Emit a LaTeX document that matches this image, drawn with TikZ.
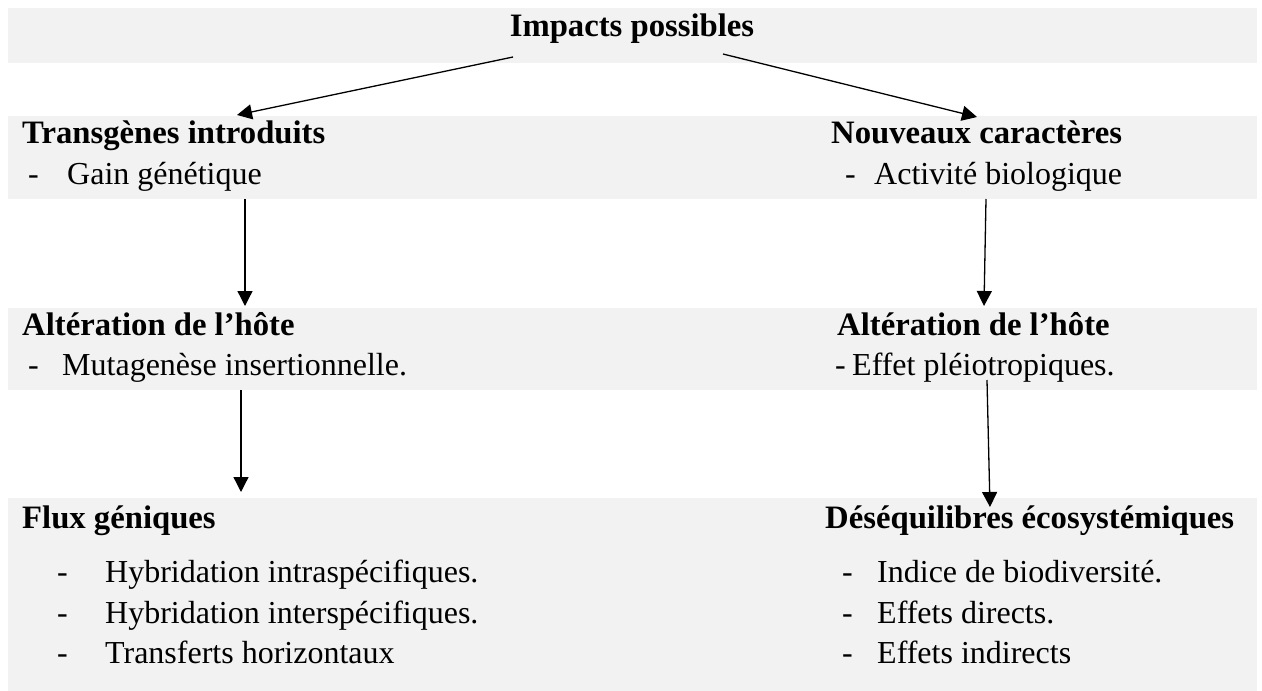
\documentclass[tikz,border=0pt]{standalone}
\usepackage{fontspec}
\setmainfont{Liberation Serif}
\usetikzlibrary{arrows.meta}
\definecolor{bandgrey}{HTML}{F2F2F2}
\begin{document}
\begin{tikzpicture}[x=1pt,y=-1pt,
  txt/.style={anchor=base west, inner sep=0pt, font=\fontsize{32}{38}\selectfont},
  ttl/.style={anchor=base west, inner sep=0pt, font=\fontsize{32.7}{38}\selectfont\bfseries},
  band/.style={fill=bandgrey, draw=none},
  arr/.style={-{Triangle[length=15pt,width=15pt]}, line width=1.3pt}]
\useasboundingbox (0,0) rectangle (1262,691);
% bands
\fill[band] (8,8) rectangle (1257,63);
\fill[band] (8,116) rectangle (1257,199);
\fill[band] (8,308) rectangle (1257,390);
\fill[band] (8,498) rectangle (1257,691);
% row 1
\node[ttl, anchor=base] (top) at (632,36) {Impacts possibles};
% row 2
\node[ttl] (tr) at (22,143) {Transgènes introduits};
\node[txt] (trd) at (28,184) {-};
\node[txt] (tri) at (67,184) {Gain génétique};
\node[ttl] (nc) at (831,143) {Nouveaux caractères};
\node[txt] (ncd) at (845,184) {-};
\node[txt] (nci) at (874,184) {Activité biologique};
% row 3
\node[ttl] (al) at (22,335) {Altération de l’hôte};
\node[txt] (ald) at (28,375) {-};
\node[txt] (ali) at (62,375) {Mutagenèse insertionnelle.};
\node[ttl] (ar) at (837,335) {Altération de l’hôte};
\node[txt] (ard) at (835,375) {-};
\node[txt] (ari) at (852,375) {Effet pléiotropiques.};
% row 4
\node[ttl] (fg) at (22,528) {Flux géniques};
\node[txt] (fgd1) at (57,582) {-};
\node[txt] (fgi1) at (105,582) {Hybridation intraspécifiques.};
\node[txt] (fgd2) at (57,623) {-};
\node[txt] (fgi2) at (105,623) {Hybridation interspécifiques.};
\node[txt] (fgd3) at (57,663) {-};
\node[txt] (fgi3) at (105,663) {Transferts horizontaux};
\node[ttl] (de) at (825,528) {Déséquilibres écosystémiques};
\node[txt] (ded1) at (842,582) {-};
\node[txt] (dei1) at (877,582) {Indice de biodiversité.};
\node[txt] (ded2) at (842,623) {-};
\node[txt] (dei2) at (877,623) {Effets directs.};
\node[txt] (ded3) at (842,663) {-};
\node[txt] (dei3) at (877,663) {Effets indirects};
% connector ends
\coordinate (a1s) at (513,57);  \coordinate (a1e) at (237,115);
\coordinate (a2s) at (723,54);  \coordinate (a2e) at (977,117);
\coordinate (a3s) at (245,199); \coordinate (a3e) at (245,306);
\coordinate (a4s) at (986,199); \coordinate (a4e) at (984,306);
\coordinate (a5s) at (241,390); \coordinate (a5e) at (241,492);
\coordinate (a6s) at (987,380); \coordinate (a6e) at (990,507);
\draw[arr] (a1s) -- (a1e);
\draw[arr] (a2s) -- (a2e);
\draw[arr] (a3s) -- (a3e);
\draw[arr] (a4s) -- (a4e);
\draw[arr] (a5s) -- (a5e);
\draw[arr] (a6s) -- (a6e);
\end{tikzpicture}
\end{document}
